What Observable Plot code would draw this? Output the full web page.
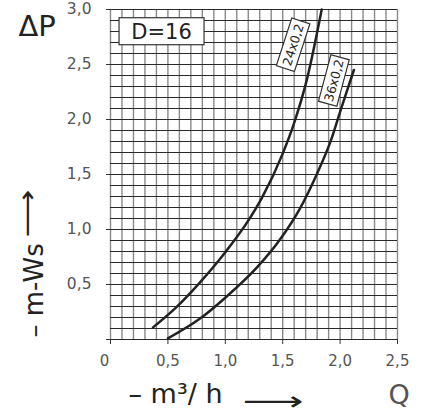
<!DOCTYPE html>
<html>
<head>
<meta charset="utf-8">
<script src="https://cdn.jsdelivr.net/npm/d3@7"></script>
<script src="https://cdn.jsdelivr.net/npm/@observablehq/plot@0.6"></script>
<style>
  html, body { margin: 0; padding: 0; background: white; }
</style>
</head>
<body>
<div id="chart"></div>
<script>
// Curve "24x0,2"
const q24 = [0.37, 0.57, 0.78, 0.99, 1.20, 1.32, 1.50, 1.60, 1.71, 1.84];
const p24 = [0.11, 0.29, 0.52, 0.78, 1.08, 1.29, 1.69, 1.97, 2.36, 3.00];
// Curve "36x0,2"
const q36 = [0.50, 0.78, 1.00, 1.28, 1.47, 1.65, 1.80, 1.92, 2.00, 2.06, 2.12];
const p36 = [0.01, 0.19, 0.38, 0.66, 0.90, 1.19, 1.51, 1.81, 2.07, 2.26, 2.45];
const seriesNames = ["24x0,2", "36x0,2"];

const xTicks = [0, 0.5, 1.0, 1.5, 2.0, 2.5];
const yTicks = [0, 0.5, 1.0, 1.5, 2.0, 2.5, 3.0];
const xGrid = d3.range(0, 26).map(i => i / 10);
const yGrid = d3.range(0, 31).map(i => i / 10);

const fmt = d => d === 0 ? "0" : d.toFixed(1).replace(".", ",");

const rows = [
  ...q24.map((q, i) => ({series: seriesNames[0], Q: q, P: p24[i]})),
  ...q36.map((q, i) => ({series: seriesNames[1], Q: q, P: p36[i]}))
];

function boxedLabel({x, y, text, angle, w, h, fontSize}) {
  return (index, scales) => {
    const g = d3.create("svg:g");
    const t = g.append("g")
      .attr("transform", `translate(${scales.x(x)},${scales.y(y)}) rotate(${angle})`);
    t.append("rect")
      .attr("x", -w / 2).attr("y", -h / 2)
      .attr("width", w).attr("height", h)
      .attr("fill", "white").attr("stroke", "#333").attr("stroke-width", 1.2);
    t.append("text")
      .attr("text-anchor", "middle").attr("dy", "0.36em")
      .attr("font-size", fontSize).attr("fill", "#222")
      .attr("font-family", "DejaVu Sans")
      .text(text);
    return g.node();
  };
}

const titleFont = 26;

const chart = Plot.plot({
  width: 428,
  height: 414,
  marginTop: 9,
  marginRight: 31,
  marginBottom: 75,
  marginLeft: 110,
  x: {domain: [0, 2.5]},
  y: {domain: [0, 3]},
  style: {fontFamily: "DejaVu Sans", background: "white", overflow: "visible"},
  marks: [
    Plot.ruleX(xGrid, {stroke: "#8a8a8a", strokeWidth: 1.4}),
    Plot.ruleY(yGrid, {stroke: "#2a2a2a", strokeWidth: 1.1}),
    Plot.axisX(xTicks, {tickSize: 5, tickPadding: 11, tickFormat: d => d === 0 ? "" : fmt(d), fontSize: 15, stroke: "#333", fill: "#555", label: null}),
    Plot.axisX([0], {tickSize: 0, tickPadding: 16, dx: -6, tickFormat: fmt, fontSize: 15, fill: "#555", label: null}),
    Plot.axisY(yTicks, {tickSize: 4, tickPadding: 15, tickFormat: d => d === 0 ? "" : fmt(d), fontSize: 15.5, stroke: "#333", fill: "#555", label: null}),
    boxedLabel({x: 0.449, y: 2.798, text: "D=16", angle: 0, w: 85, h: 27, fontSize: 21}),
    boxedLabel({x: 1.595, y: 2.675, text: seriesNames[0], angle: -72, w: 50, h: 19, fontSize: 12.5}),
    boxedLabel({x: 1.95, y: 2.35, text: seriesNames[1], angle: -75, w: 48, h: 19, fontSize: 12.5}),
    Plot.line(rows, {x: "Q", y: "P", z: "series", curve: "monotone-x", stroke: "#222", strokeWidth: 2.5}),
    // titles
    Plot.text(["ΔP"], {frameAnchor: "top-left", dx: -92, dy: 26, textAnchor: "start", lineAnchor: "bottom", fontSize: 29, fill: "#222"}),
    Plot.text(["– m-Ws"], {frameAnchor: "bottom-left", dx: -68, dy: -2, rotate: -90, textAnchor: "start", lineAnchor: "bottom", fontSize: titleFont, fill: "#222"}),
    Plot.text(["⟶"], {frameAnchor: "bottom-left", dx: -75, dy: -102, rotate: -90, textAnchor: "start", lineAnchor: "bottom", fontSize: titleFont, fill: "#222", className: "arrow-y"}),
    Plot.text(["– m³/ h"], {frameAnchor: "bottom-left", dx: 18, dy: 63, textAnchor: "start", lineAnchor: "bottom", fontSize: 27, fill: "#222"}),
    Plot.text(["⟶"], {frameAnchor: "bottom-left", dx: 132, dy: 70, textAnchor: "start", lineAnchor: "bottom", fontSize: titleFont, fill: "#222", className: "arrow-x"}),
    Plot.text(["Q"], {frameAnchor: "bottom-left", dx: 278, dy: 64, textAnchor: "start", lineAnchor: "bottom", fontSize: 27, fill: "#555"})
  ]
});
// stretch the arrow glyphs to the reference's length
d3.select(chart).selectAll(".arrow-x text").attr("textLength", 61).attr("lengthAdjust", "spacingAndGlyphs");
d3.select(chart).selectAll(".arrow-y text").attr("textLength", 48).attr("lengthAdjust", "spacingAndGlyphs");
document.getElementById("chart").appendChild(chart);
</script>
</body>
</html>
